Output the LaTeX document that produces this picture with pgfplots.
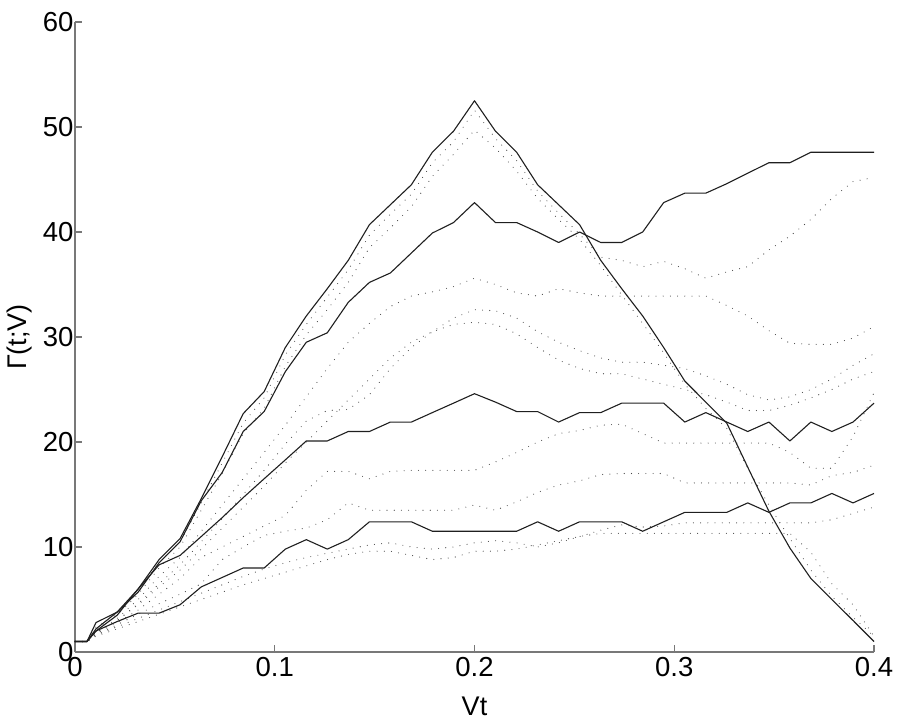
\documentclass[border=0pt]{standalone}
\usepackage{fontspec}
\setmainfont{Liberation Sans}
\usepackage{pgfplots}
\pgfplotsset{compat=1.18}
\usepackage{pgfplotstable}
\definecolor{axgray}{RGB}{120,120,120}
\pgfplotstableread{
x S1 S2 S3 S4 P Q B C E F G H I
0 1 1 1 1 1 1 1 1 1 1 1 1 1
0.006 1 1 1 1 1 1 1 1 1 1 1 1 1
0.0105 2.8 2.2 2.0 2.0 2.4 2.2 1.8 1.8 1.8 1.7 1.6 1.6 1.5
0.0211 3.8 3.8 3.5 2.9 3.6 3.5 3.2 3.0 3.0 2.8 2.6 2.4 2.2
0.0316 6.0 5.7 6.0 3.7 5.8 5.5 5.0 4.6 4.5 4.0 3.6 3.2 2.9
0.0421 8.8 8.5 8.3 3.7 8.5 8.0 7.2 6.5 6.2 5.5 4.6 4.0 3.6
0.0526 10.8 10.5 9.2 4.5 10.5 10.0 9.0 8.3 7.8 7.0 5.5 4.8 4.3
0.0632 14.6 14.4 11.0 6.2 14.2 13.5 11.5 10.5 9.8 9.0 6.5 5.6 5.0
0.0737 18.6 17.1 12.8 7.1 18.0 17.0 14.0 12.7 11.8 10.0 8.8 6.4 5.7
0.0842 22.7 21.0 14.7 8.0 21.8 20.8 16.5 15.0 13.8 11.0 10.0 7.2 6.4
0.0947 24.8 22.9 16.5 8.0 24.2 23.2 19.0 17.3 15.8 12.0 11.1 7.9 7.0
0.1053 29.0 26.7 18.3 9.8 28.3 27.2 21.6 19.8 18.0 13.0 11.5 8.5 7.6
0.1158 32.0 29.5 20.1 10.7 31.2 30.2 24.3 22.0 20.0 15.4 11.8 9.0 8.2
0.1263 34.6 30.4 20.1 9.8 33.8 32.6 27.0 23.0 22.0 17.2 12.6 9.4 8.8
0.1368 37.3 33.3 21.0 10.7 36.4 35.2 29.5 23.1 24.0 17.2 14.2 9.8 9.3
0.1474 40.7 35.2 21.0 12.4 39.7 38.5 31.3 24.5 26.0 16.5 13.5 10.2 9.6
0.1579 42.6 36.1 21.9 12.4 41.7 40.4 32.9 27.0 28.0 17.2 13.5 10.4 9.6
0.1684 44.5 38.0 21.9 12.4 43.6 42.4 33.9 29.0 29.5 17.3 13.5 10.0 9.2
0.1789 47.6 39.9 22.8 11.5 46.6 45.3 34.3 30.5 30.5 17.3 13.5 9.8 8.8
0.1895 49.6 40.9 23.7 11.5 48.6 47.4 34.8 31.8 31.2 17.3 13.5 10.0 9.0
0.2000 52.5 42.8 24.6 11.5 51.6 49.7 35.6 32.6 31.4 17.3 14.0 10.4 9.6
0.2105 49.6 40.9 23.8 11.5 48.9 48.0 35.0 32.5 31.2 18.1 13.5 10.6 9.6
0.2211 47.6 40.9 22.9 11.5 46.8 45.8 34.2 31.8 30.3 19.0 14.3 10.4 9.8
0.2316 44.5 40.0 22.9 12.4 43.9 43.2 33.9 30.5 29.0 20.0 15.2 10.0 10.2
0.2421 42.6 39.0 21.9 11.5 41.8 41.2 34.6 29.5 27.8 20.8 15.9 10.4 10.6
0.2526 40.7 40.0 22.8 12.4 39.8 39.3 34.2 28.7 27.0 21.1 16.3 11.0 11.0
0.2632 37.3 39.0 22.8 12.4 37.6 36.8 33.9 28.0 26.5 21.6 16.9 11.6 11.3
0.2737 34.6 39.0 23.7 12.4 37.3 34.0 33.9 27.6 26.5 21.7 17.0 12.1 11.3
0.2842 32.0 40.0 23.7 11.5 36.7 31.3 33.9 27.6 26.0 20.8 17.0 11.9 11.3
0.2947 29.0 42.8 23.7 12.4 37.2 28.5 33.9 27.3 25.5 19.9 17.0 12.0 11.3
0.3053 25.8 43.7 21.9 13.3 36.5 25.5 33.9 27.0 25.0 19.9 16.1 12.3 11.3
0.3158 23.8 43.7 22.8 13.3 35.6 23.2 33.9 26.3 24.5 19.9 16.1 12.3 11.3
0.3263 21.8 44.6 21.9 13.3 36.2 21.3 33.0 25.5 23.8 19.9 16.1 12.3 11.3
0.3368 17.6 45.6 21.0 14.2 36.7 17.5 32.0 24.5 23.0 19.9 16.1 12.3 11.3
0.3474 13.4 46.6 21.9 13.3 38.3 14.0 30.6 24.0 23.0 19.9 16.1 12.3 11.3
0.3579 9.9 46.6 20.1 14.2 39.6 10.8 29.4 24.3 23.5 19.0 16.1 12.3 11.3
0.3684 7.0 47.6 21.9 14.2 41.2 7.8 29.3 25.0 24.2 17.5 15.9 12.3 9.5
0.3789 5.0 47.6 21.0 15.1 43.2 5.3 29.3 26.0 25.0 17.5 16.8 12.6 6.5
0.3895 3.0 47.6 21.9 14.2 44.8 3.3 29.9 27.3 26.0 20.5 17.1 13.2 4.5
0.4000 1.0 47.6 23.7 15.1 45.2 1.5 31.0 28.4 26.7 24.7 17.8 13.8 1.5
}\data
\begin{document}
\begin{tikzpicture}
\path[use as bounding box] (-75pt,-69pt) rectangle (825pt,652pt);
\begin{axis}[
  scale only axis, width=799pt, height=630pt,
  xmin=0, xmax=0.4, ymin=0, ymax=60,
  axis x line*=bottom, axis y line*=left,
  axis line style={draw=axgray, line width=1.2pt, -},
  xtick={0,0.1,0.2,0.3,0.4}, xticklabels={0,0.1,0.2,0.3,0.4},
  ytick={0,10,20,30,40,50,60},
  tick align=inside, major tick length=7pt,
  tick style={draw=axgray, line width=1.2pt},
  ticklabel style={font=\fontsize{27.5}{32}\selectfont, text=black},
  /pgf/number format/assume math mode=true,
  xticklabel style={yshift=-1.5pt},
  yticklabel style={xshift=2pt},
  xlabel={Vt}, ylabel={Γ(t;V)},
  label style={font=\fontsize{27}{32}\selectfont},
  xlabel style={at={(axis description cs:0.5,-0.0857)}, anchor=center},
  ylabel style={at={(axis description cs:-0.069,0.5)}, anchor=center},
  clip=false,
  dotted line/.style={black!72, line width=1.1pt, line cap=round, dash pattern=on 0pt off 7.2pt},
  solid line/.style={black!88, line width=1.1pt, line join=round},
]
\foreach \c in {P,Q,B,C,E,F,G,H,I}{
  \addplot[dotted line] table[x=x, y=\c] {\data};
}
\foreach \c in {S1,S2,S3,S4}{
  \addplot[solid line] table[x=x, y=\c] {\data};
}
\end{axis}
\end{tikzpicture}
\end{document}
